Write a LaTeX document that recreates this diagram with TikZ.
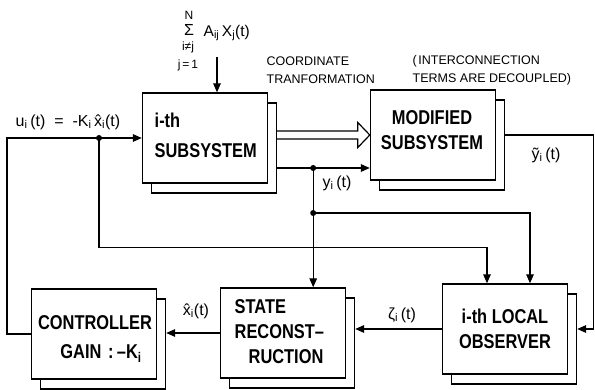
\documentclass[tikz,border=0pt]{standalone}
\usepackage{fontspec}
\setmainfont{Liberation Sans}
\newfontfamily\boxfont[FakeStretch=0.82]{Liberation Sans}
\usetikzlibrary{arrows.meta,calc}
\begin{document}
\begin{tikzpicture}[x=1pt,y=-1pt,
  line width=1.4pt,
  front/.style={draw,fill=white,minimum width=125pt,minimum height=90pt,inner sep=0pt},
  back/.style={draw,minimum width=125pt,minimum height=90pt,inner sep=0pt},
  boxtext/.style={inner sep=0pt,font=\boxfont\bfseries\fontsize{20}{25}\selectfont,align=center},
  arr/.style={-{Triangle[length=9pt,width=7.5pt]}},
  lbl/.style={font=\fontsize{16}{18}\selectfont,inner sep=1pt},
  sumlbl/.style={font=\fontsize{12}{14}\selectfont,inner sep=0pt},
  small/.style={font=\fontsize{12.5}{18}\selectfont,align=left,inner sep=0pt,anchor=west}]
\useasboundingbox (0,0) rectangle (595,390);

% boxes (back copies first)
\node[back] (subB) at (214,148) {};
\node[front] (sub) at (205,138) {};
\node[boxtext,align=left,anchor=west] (subT) at (154,135) {i-th\\[5pt]SUBSYSTEM};
\node[back] (modB) at (442,145) {};
\node[front] (mod) at (433,135) {};
\node[boxtext] (modT) at (432,130) {MODIFIED\\SUBSYSTEM};
\node[back] (loB) at (514,339) {};
\node[front] (lo) at (505,329) {};
\node[boxtext] (loT) at (505,329) {i-th LOCAL\\OBSERVER};
\node[back] (stateB) at (292,343) {};
\node[front] (state) at (283,333) {};
\node[boxtext,align=left,anchor=west] (stateT) at (234,332) {STATE\\RECONST–\\\hspace*{14pt}RUCTION};
\node[back] (ctrlB) at (103,344) {};
\node[front] (ctrl) at (94,334) {};
\node[boxtext] (ctrlT) at (95,339) {CONTROLLER\\[4pt]\hspace*{12pt}GAIN\,\,:\,–K\textsubscript{i}};

% texts
\node[sumlbl] (sumN) at (189,15) {N};
\node[sumlbl,font=\fontsize{16}{16}\selectfont] (sumS) at (189,30) {Σ};
\node[sumlbl] (sumI) at (188,47) {i≠j};
\node[sumlbl] (sumJ) at (188,65) {j\,=\,1};
\node[lbl,anchor=west,font=\fontsize{15.5}{18}\selectfont] (sumA) at (202,33) {A\textsubscript{ij}\,X\textsubscript{j}(t)};
\node[small] (coord) at (266,70) {COORDINATE\\TRANFORMATION};
\node[small] (inter) at (412,70) {(\kern1.5pt INTERCONNECTION\\TERMS ARE DECOUPLED)};
\node[lbl] (ulab) at (68,122) {u\textsubscript{i}\,(t) \ = \ -K\textsubscript{i}\,\^{x}\textsubscript{i}(t)};
\node[lbl] (ylab) at (337,183) {y\textsubscript{i}\,(t)};
\node[lbl] (ytlab) at (546,155) {\~{y}\textsubscript{i}\,(t)};
\node[lbl] (zlab) at (402,315) {ζ\textsubscript{i}\,(t)};
\node[lbl] (xlab) at (196,311) {\^{x}\textsubscript{i}(t)};

% input sum arrow
\coordinate (sumin) at (217,57);
\draw[arr] (sumin) -- (sumin |- sub.north);

% feedback control loop
\draw[arr] (ctrl.west) -- ++(-24,0) |- (sub.west);
\coordinate (uj) at (99,138);
\fill (uj) circle (3pt);
\draw[arr] (uj) |- ($(lo.north)+(-18,-36)$) -- ($(lo.north)+(-18,0)$);

% output y_i
\coordinate (ys) at ($(subB.east)+(0,20)$);
\draw[arr] (ys) -- (ys -| mod.west);
\coordinate (yd) at ($(ys)+(36,0)$);
\fill (yd) circle (3pt);
\draw[arr] (yd) -- (yd |- state.north);
\coordinate (yd2) at ($(yd)+(0,45)$);
\fill (yd2) circle (3pt);
\draw[arr] (yd2) -| ($(lo.north)+(25,0)$);

% coordinate transformation (hollow double arrow)
\draw[line width=1.2pt,line join=miter]
  (subB.east |- {$(mod.west)+(0,-4)$}) -- ($(mod.west)+(-12,-4)$) -- ($(mod.west)+(-12,-12.5)$)
  -- (mod.west) -- ($(mod.west)+(-12,12.5)$) -- ($(mod.west)+(-12,4)$)
  -- (subB.east |- {$(mod.west)+(0,4)$});

% modified subsystem output to observer
\draw[arr] (modB.east |- mod.east) -- ++(88,0) |- (loB.east |- lo.east);

% observer -> state reconstruction -> controller
\draw[arr] (lo.west) -- (lo.west -| stateB.east);
\draw[arr] (state.west) -- (state.west -| ctrlB.east);
\end{tikzpicture}
\end{document}
